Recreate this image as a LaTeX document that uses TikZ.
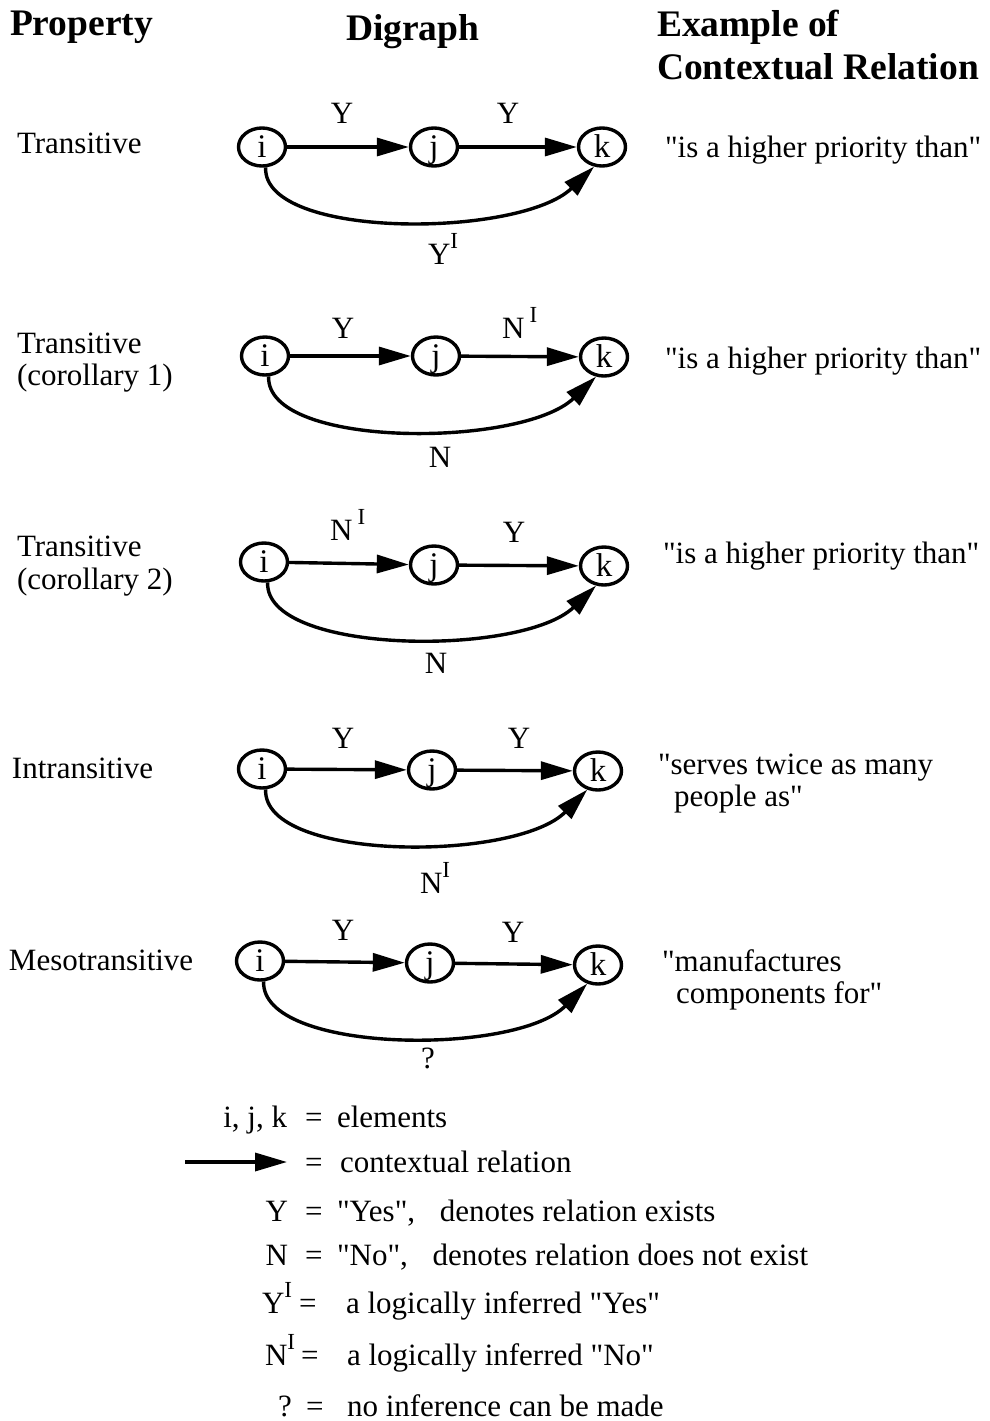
\documentclass[tikz,border=0pt]{standalone}
\usepackage{fontspec}
\setmainfont{Liberation Serif}
\usetikzlibrary{arrows.meta,calc,shapes.geometric}
\newcommand\supI{\raisebox{0.5em}{\fontsize{23}{23}\selectfont I}}
\newcommand\qq{\XeTeXglyph\XeTeXcharglyph"22\relax}
\begin{document}
\begin{tikzpicture}[x=1pt,y=1pt,
  txt/.style={font=\fontsize{31}{34}\selectfont, inner sep=0pt, outer sep=0pt},
  head/.style={font=\fontsize{37.5}{42}\selectfont\bfseries, inner sep=0pt, outer sep=0pt},
  elem/.style={ellipse, draw, line width=3.4pt, minimum width=47pt, minimum height=38pt, inner sep=0pt,
    font=\fontsize{33}{34}\selectfont, text height=21pt, text depth=0pt},
  rel/.style={line width=3.4pt, -{Triangle[length=32pt,width=18pt]}},
]
\useasboundingbox (0,0) rectangle (990,-1421);

% headers
\node[head, anchor=base west] (hProp) at (10,-36) {Property};
\node[head, anchor=base west] (hDig) at (346,-41) {Digraph};
\node[head, anchor=base west] (hEx1) at (657,-37) {Example of};
\node[head, anchor=base west] (hEx2) at (657,-80) {Contextual Relation};

% property names
\node[txt, anchor=base west] (p1) at (17,-153) {Transitive};
\node[txt, anchor=base west] (p2a) at (17,-353) {Transitive};
\node[txt, anchor=base west] (p2b) at (17,-385) {(corollary 1)};
\node[txt, anchor=base west] (p3a) at (17,-556) {Transitive};
\node[txt, anchor=base west] (p3b) at (17,-589) {(corollary 2)};
\node[txt, anchor=base west] (p4) at (12,-778) {Intransitive};
\node[txt, anchor=base west] (p5) at (9,-970) {Mesotransitive};

% examples
\node[txt, anchor=base west] (e1) at (665,-157) {\qq is a higher priority than\qq};
\node[txt, anchor=base west] (e2) at (665,-368) {\qq is a higher priority than\qq};
\node[txt, anchor=base west] (e3) at (663,-563) {\qq is a higher priority than\qq};
\node[txt, anchor=base west] (e4a) at (658,-774) {\qq serves twice as many};
\node[txt, anchor=base west] (e4b) at (674,-806) {people as\qq};
\node[txt, anchor=base west] (e5a) at (662,-971) {\qq manufactures};
\node[txt, anchor=base west] (e5b) at (676,-1003) {components for\qq};

% row 1
\node[elem] (i1) at (262,-147) {i};
\node[elem] (j1) at (434,-147) {j};
\node[elem] (k1) at (602,-147) {k};
\draw[rel] (i1) -- (j1);
\draw[rel] (j1) -- (k1);
\draw[rel] (i1.-80) .. controls ($(i1)+(1,-93)$) and ($(k1)+(-82,-91)$) .. (k1.-112);
\node[txt] (l1a) at (342,-113) {Y};
\node[txt] (l1b) at (508,-113) {Y};
\node[txt, anchor=base west] (l1c) at (428,-264) {Y\supI};

% row 2
\node[elem] (i2) at (265,-356) {i};
\node[elem] (j2) at (436,-356) {j};
\node[elem] (k2) at (604,-357) {k};
\draw[rel] (i2) -- (j2);
\draw[rel] (j2) -- (k2);
\draw[rel] (i2.-80) .. controls ($(i2)+(1,-93)$) and ($(k2)+(-82,-91)$) .. (k2.-112);
\node[txt] (l2a) at (343,-328) {Y};
\node[txt, anchor=base west] (l2b) at (502,-338) {N\,\supI};
\node[txt] (l2c) at (440,-457) {N};

% row 3
\node[elem] (i3) at (264,-562) {i};
\node[elem] (j3) at (434,-565) {j};
\node[elem] (k3) at (604,-566) {k};
\draw[rel] (i3) -- (j3);
\draw[rel] (j3) -- (k3);
\draw[rel] (i3.-80) .. controls ($(i3)+(1,-93)$) and ($(k3)+(-82,-91)$) .. (k3.-112);
\node[txt, anchor=base west] (l3a) at (330,-540) {N\,\supI};
\node[txt] (l3b) at (514,-532) {Y};
\node[txt] (l3c) at (436,-663) {N};

% row 4
\node[elem] (i4) at (262,-769) {i};
\node[elem] (j4) at (432,-770) {j};
\node[elem] (k4) at (598,-771) {k};
\draw[rel] (i4) -- (j4);
\draw[rel] (j4) -- (k4);
\draw[rel] (i4.-80) .. controls ($(i4)+(1,-93)$) and ($(k4)+(-82,-91)$) .. (k4.-120);
\node[txt] (l4a) at (343,-738) {Y};
\node[txt] (l4b) at (519,-738) {Y};
\node[txt, anchor=base west] (l4c) at (420,-893) {N\supI};

% row 5
\node[elem] (i5) at (260,-961) {i};
\node[elem] (j5) at (430,-963) {j};
\node[elem] (k5) at (598,-965) {k};
\draw[rel] (i5) -- (j5);
\draw[rel] (j5) -- (k5);
\draw[rel] (i5.-80) .. controls ($(i5)+(1,-93)$) and ($(k5)+(-82,-91)$) .. (k5.-120);
\node[txt] (l5a) at (343,-930) {Y};
\node[txt] (l5b) at (513,-932) {Y};
\node[txt] (l5c) at (428,-1058) {?};

% legend
\node[txt, anchor=base east] (g1a) at (287,-1127) {i, j, k};
\node[txt, anchor=base west] (g1b) at (305,-1127) {=};
\node[txt, anchor=base west] (g1c) at (337,-1127) {elements};

\coordinate (ga) at (185,-1162);
\coordinate (gb) at (287,-1162);
\draw[rel] (ga) -- (gb);
\node[txt, anchor=base west] (g2b) at (305,-1172) {=};
\node[txt, anchor=base west] (g2c) at (340,-1172) {contextual relation};

\node[txt, anchor=base east] (g3a) at (288,-1221) {Y};
\node[txt, anchor=base west] (g3b) at (305,-1221) {=};
\node[txt, anchor=base west] (g3c) at (337,-1221) {\qq Yes\qq,\hspace{0.8em}denotes relation exists};

\node[txt, anchor=base east] (g4a) at (288,-1265) {N};
\node[txt, anchor=base west] (g4b) at (305,-1265) {=};
\node[txt, anchor=base west] (g4c) at (337,-1265) {\qq No\qq,\hspace{0.8em}denotes relation does not exist};

\node[txt, anchor=base west] (g5a) at (262,-1313) {Y\supI};
\node[txt, anchor=base west] (g5b) at (299,-1313) {=};
\node[txt, anchor=base west] (g5c) at (346,-1313) {a logically inferred \qq Yes\qq};

\node[txt, anchor=base west] (g6a) at (265,-1365) {N\supI};
\node[txt, anchor=base west] (g6b) at (301,-1365) {=};
\node[txt, anchor=base west] (g6c) at (347,-1365) {a logically inferred \qq No\qq};

\node[txt, anchor=base west] (g7a) at (278,-1416) {?};
\node[txt, anchor=base west] (g7b) at (306,-1416) {=};
\node[txt, anchor=base west] (g7c) at (347,-1416) {no inference can be made};
\end{tikzpicture}
\end{document}
